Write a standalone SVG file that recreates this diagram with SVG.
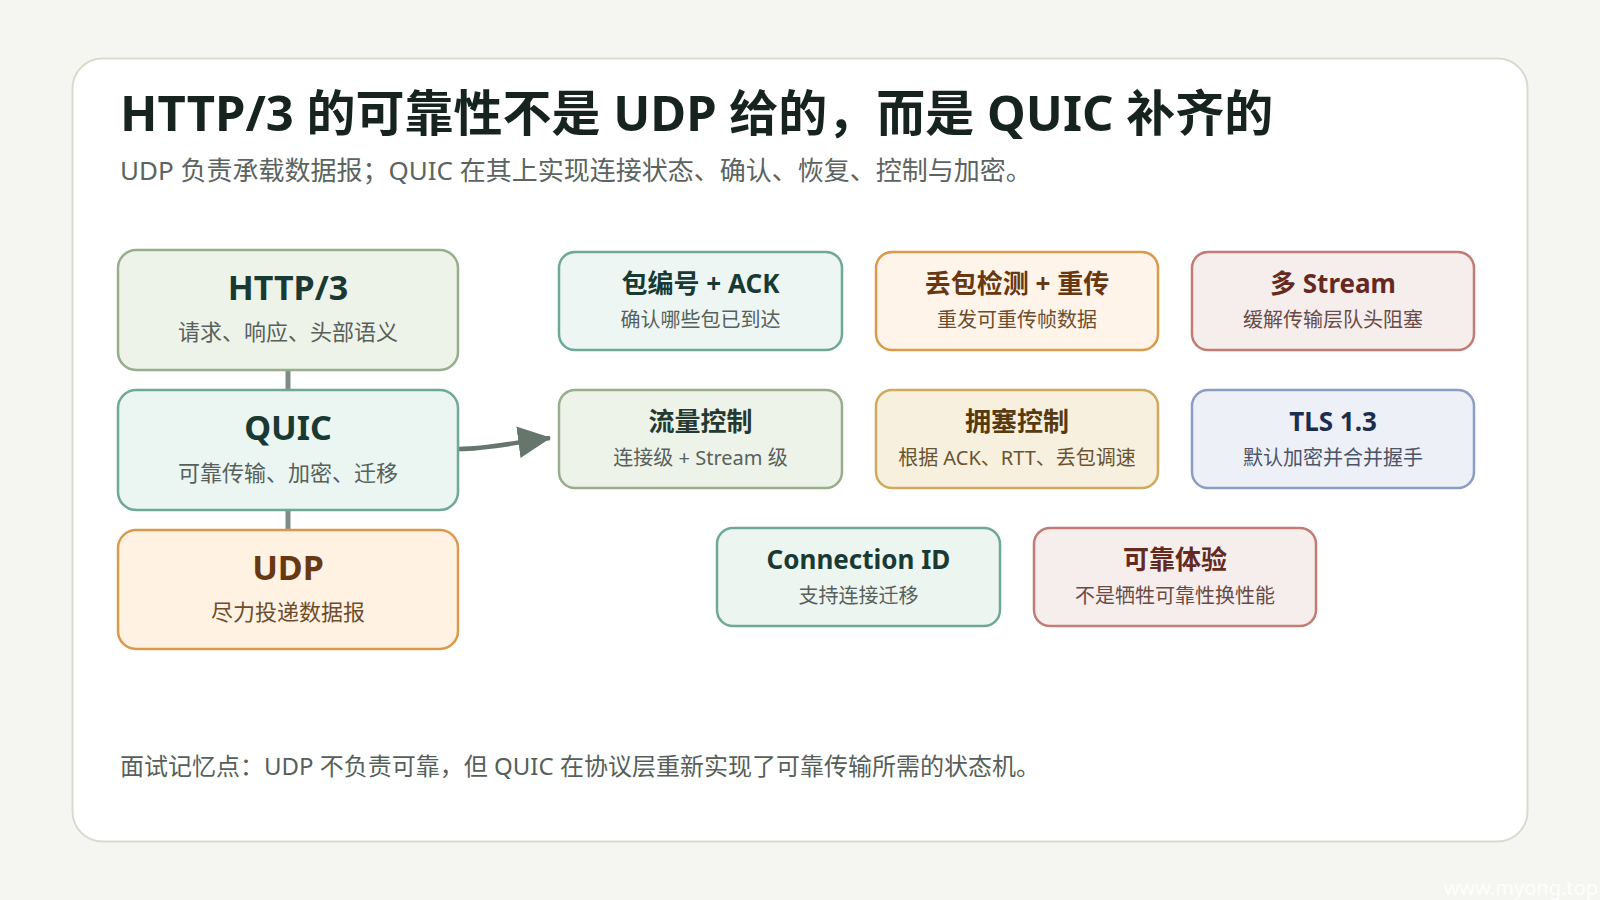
<svg xmlns="http://www.w3.org/2000/svg" width="1600" height="900" viewBox="0 0 1600 900">
<style>
text{font-family:"Noto Sans","Noto Sans CJK SC",sans-serif;text-anchor:middle}
.ttl{font-weight:700}
.lt{font-size:34px}
.ls{font-size:22px}
.rt{font-size:26px}
.rs{font-size:20px}
.box{stroke-width:2.5}
.g{fill:#eef3ea;stroke:#97ad8c}
.t{fill:#ebf5f1;stroke:#6fa899}
.o{fill:#fff2e2;stroke:#d99b4b}
.r{fill:#f5eeed;stroke:#c27c74}
.y{fill:#f7f0de;stroke:#d1a95c}
.b{fill:#edf0f7;stroke:#8b9dc5}
.dt{fill:#183a33}.ds{fill:#56615b}
.bt{fill:#673811}.bs{fill:#6d4d2d}
.rrt{fill:#652a1f}.rrs{fill:#6a4a45}
.yt{fill:#573a10}.ys{fill:#6a5430}
.nt{fill:#1d2d4f}.ns{fill:#4b5468}
</style>
<defs>
<marker id="ah" markerUnits="userSpaceOnUse" markerWidth="34" markerHeight="34" viewBox="0 0 32 32" refX="30" refY="16" orient="auto">
<path d="M0,1 L31,16 L0,31 Z" fill="#66766d"/>
</marker>
</defs>
<rect width="1600" height="900" fill="#f5f6f1"/>
<rect x="72.5" y="58.5" width="1455" height="783" rx="30" fill="#ffffff" stroke="#d8dccf" stroke-width="2"/>
<text x="120" y="131" style="text-anchor:start;font-size:49px;font-weight:700" fill="#16231f">HTTP/3 的可靠性不是 UDP 给的，而是 QUIC 补齐的</text>
<text x="120" y="180" style="text-anchor:start;font-size:26px" fill="#5b6460">UDP 负责承载数据报；QUIC 在其上实现连接状态、确认、恢复、控制与加密。</text>

<g id="connectors" fill="none">
<line x1="288" y1="370" x2="288" y2="390" stroke="#7f8c86" stroke-width="5"/>
<line x1="288" y1="510" x2="288" y2="530" stroke="#7f8c86" stroke-width="5"/>
<path d="M459,449 C485,449 505,444 550,438" stroke="#66766d" stroke-width="4.5" marker-end="url(#ah)"/>
</g>

<g id="http3">
<rect class="box g" x="118" y="250" width="340" height="120" rx="18"/>
<text class="ttl lt dt" x="288" y="300">HTTP/3</text>
<text class="ls ds" x="288" y="340">请求、响应、头部语义</text>
</g>
<g id="quic">
<rect class="box t" x="118" y="390" width="340" height="120" rx="18"/>
<text class="ttl lt dt" x="288" y="440">QUIC</text>
<text class="ls ds" x="288" y="481">可靠传输、加密、迁移</text>
</g>
<g id="udp">
<rect class="box o" x="118" y="530" width="340" height="119" rx="18"/>
<text class="ttl lt bt" x="288" y="580">UDP</text>
<text class="ls bs" x="288" y="620">尽力投递数据报</text>
</g>

<g id="ack">
<rect class="box t" x="559" y="252" width="283" height="98" rx="16" style="fill:#eef6f3"/>
<text class="ttl rt dt" x="700.5" y="293">包编号 + ACK</text>
<text class="rs ds" x="700.5" y="327">确认哪些包已到达</text>
</g>
<g id="retransmit">
<rect class="box o" x="876" y="252" width="282" height="98" rx="16" style="fill:#fff4ea"/>
<text class="ttl rt bt" x="1017" y="293">丢包检测 + 重传</text>
<text class="rs bs" x="1017" y="327">重发可重传帧数据</text>
</g>
<g id="streams">
<rect class="box r" x="1192" y="252" width="282" height="98" rx="16"/>
<text class="ttl rt rrt" x="1333" y="293">多 Stream</text>
<text class="rs rrs" x="1333" y="327">缓解传输层队头阻塞</text>
</g>

<g id="flow">
<rect class="box g" x="559" y="390" width="283" height="98" rx="16"/>
<text class="ttl rt dt" x="700.5" y="431" style="fill:#243a30">流量控制</text>
<text class="rs ds" x="700.5" y="465">连接级 + Stream 级</text>
</g>
<g id="congestion">
<rect class="box y" x="876" y="390" width="282" height="98" rx="16"/>
<text class="ttl rt yt" x="1017" y="431">拥塞控制</text>
<text class="rs ys" x="1017" y="465">根据 ACK、RTT、丢包调速</text>
</g>
<g id="tls">
<rect class="box b" x="1192" y="390" width="282" height="98" rx="16"/>
<text class="ttl rt nt" x="1333" y="431">TLS 1.3</text>
<text class="rs ns" x="1333" y="465">默认加密并合并握手</text>
</g>

<g id="connid">
<rect class="box t" x="717" y="528" width="283" height="98" rx="16" style="fill:#edf5f1"/>
<text class="ttl rt dt" x="858.5" y="569">Connection ID</text>
<text class="rs ds" x="858.5" y="603">支持连接迁移</text>
</g>
<g id="experience">
<rect class="box r" x="1034" y="528" width="282" height="98" rx="16"/>
<text class="ttl rt rrt" x="1175" y="569">可靠体验</text>
<text class="rs rrs" x="1175" y="603">不是牺牲可靠性换性能</text>
</g>

<text x="120" y="775" style="text-anchor:start;font-size:24px" fill="#565f5a">面试记忆点：UDP 不负责可靠，但 QUIC 在协议层重新实现了可靠传输所需的状态机。</text>
<text x="1598" y="895" style="text-anchor:end;font-size:20px" fill="#ffffff" fill-opacity="0.9">www.myong.top</text>
</svg>
